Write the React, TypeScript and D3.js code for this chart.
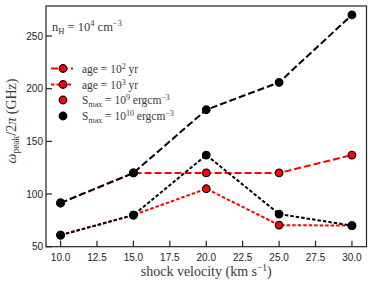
import React from "react";
import * as d3 from "d3";

const velocities = [10, 15, 20, 25, 30];
// age = 1e2 yr
const age2_S9 = [91.5, 120, 120, 120, 137];
const age2_S10 = [91.5, 120, 180, 206, 270];
// age = 1e3 yr
const age3_S9 = [61, 80, 105, 70.5, 70];
const age3_S10 = [61, 80, 137, 81, 70];

const xTicks = [10, 12.5, 15, 17.5, 20, 22.5, 25, 27.5, 30];
const yTicks = [50, 100, 150, 200, 250];

const W = 374, H = 283;
const L = 46, R = 366.5, T = 6, B = 246.7;

export default function App() {
  const x = d3.scaleLinear().domain([9, 31]).range([L, R]);
  const y = d3.scaleLinear().domain([50, 278.5]).range([B, T]);
  const line = d3.line<number>().x((_, i) => x(velocities[i])).y((d) => y(d));

  const series = [
    { data: age2_S9, color: "#ff0000", dash: "7,3", marker: "red" },
    { data: age3_S9, color: "#ff0000", dash: "3.5,2", marker: "red" },
    { data: age2_S10, color: "#000", dash: "7,3", marker: "black" },
    { data: age3_S10, color: "#000", dash: "3.5,2", marker: "black" },
  ];

  const serif = "'Liberation Serif', 'DejaVu Serif', serif";
  const sans = "'Liberation Sans', Arial, sans-serif";
  const textCol = "#3a3a3a";

  const legendRows = [68.5, 84.5, 100, 116];

  return (
    <svg width={W} height={H} style={{ position: "absolute", left: 0, top: 0 }}>
      <rect x={0} y={0} width={W} height={H} fill="#fff" />
      {series.map((s, k) => (
        <g key={k}>
          <path d={line(s.data) || ""} fill="none" stroke={s.color} strokeWidth={2} strokeDasharray={s.dash} />
          {s.data.map((v, i) => (
            <circle key={i} cx={x(velocities[i])} cy={y(v)} r={3.8}
              fill={s.marker === "red" ? "#ff0000" : "#000"} stroke="#000" strokeWidth={1.2} />
          ))}
        </g>
      ))}
      {/* axes frame */}
      <rect x={L} y={T} width={R - L} height={B - T} fill="none" stroke="#222" strokeWidth={1.2} />
      {xTicks.map((t) => (
        <g key={t}>
          <line x1={x(t)} x2={x(t)} y1={B} y2={B - 6} stroke="#222" strokeWidth={1.2} />
          <text x={x(t)} y={B + 14} textAnchor="middle" fontFamily={sans} fontSize={10} fill="#222">
            {t.toFixed(1)}
          </text>
        </g>
      ))}
      {yTicks.map((t) => (
        <g key={t}>
          <line x1={L} x2={L + 6} y1={y(t)} y2={y(t)} stroke="#222" strokeWidth={1.2} />
          <text x={L - 3} y={y(t) + 3.5} textAnchor="end" fontFamily={sans} fontSize={10} fill="#222">
            {t}
          </text>
        </g>
      ))}
      {/* x label */}
      <text x={(L + R) / 2} y={276} textAnchor="middle" fontFamily={serif} fontSize={14} fill={textCol}>
        shock velocity (km s<tspan dy={-5} fontSize={9.5}>−1</tspan><tspan dy={5}>)</tspan>
      </text>
      {/* y label */}
      <text transform={`translate(16,121) rotate(-90)`} textAnchor="middle" fontFamily={serif} fontSize={14} fill={textCol}>
        <tspan fontStyle="italic">ω</tspan><tspan dy={3} fontSize={9.5}>peak</tspan><tspan dy={-3}>/2</tspan><tspan fontStyle="italic">π</tspan> (GHz)
      </text>
      {/* annotation */}
      <text x={52} y={31} fontFamily={serif} fontSize={12.5} fill={textCol}>
        n<tspan dy={3} fontSize={8.5}>H</tspan><tspan dy={-3}> = 10</tspan><tspan dy={-5} fontSize={8.5}>4</tspan><tspan dy={5}> cm</tspan><tspan dy={-5} fontSize={8.5}>−3</tspan>
      </text>
      {/* legend */}
      <line x1={51} x2={73} y1={legendRows[0]} y2={legendRows[0]} stroke="#ff0000" strokeWidth={2} strokeDasharray="7,3" />
      <circle cx={63} cy={legendRows[0]} r={3.8} fill="#ff0000" stroke="#000" strokeWidth={1.2} />
      <line x1={51} x2={73} y1={legendRows[1]} y2={legendRows[1]} stroke="#ff0000" strokeWidth={2} strokeDasharray="3.5,2" />
      <circle cx={63} cy={legendRows[1]} r={3.8} fill="#ff0000" stroke="#000" strokeWidth={1.2} />
      <circle cx={63} cy={legendRows[2]} r={3.8} fill="#ff0000" stroke="#000" strokeWidth={1.2} />
      <circle cx={63} cy={legendRows[3]} r={3.8} fill="#000" stroke="#000" strokeWidth={1.2} />
      <text x={82} y={legendRows[0] + 4} fontFamily={serif} fontSize={11.5} fill={textCol}>
        age = 10<tspan dy={-4} fontSize={8}>2</tspan><tspan dy={4}> yr</tspan>
      </text>
      <text x={82} y={legendRows[1] + 4} fontFamily={serif} fontSize={11.5} fill={textCol}>
        age = 10<tspan dy={-4} fontSize={8}>3</tspan><tspan dy={4}> yr</tspan>
      </text>
      <text x={82} y={legendRows[2] + 4} fontFamily={serif} fontSize={11.5} fill={textCol}>
        S<tspan dy={2.5} fontSize={8}>max</tspan><tspan dy={-2.5}> = 10</tspan><tspan dy={-4} fontSize={8}>9</tspan><tspan dy={4}> ergcm</tspan><tspan dy={-4} fontSize={8}>−3</tspan>
      </text>
      <text x={82} y={legendRows[3] + 4} fontFamily={serif} fontSize={11.5} fill={textCol}>
        S<tspan dy={2.5} fontSize={8}>max</tspan><tspan dy={-2.5}> = 10</tspan><tspan dy={-4} fontSize={8}>10</tspan><tspan dy={4}> ergcm</tspan><tspan dy={-4} fontSize={8}>−3</tspan>
      </text>
    </svg>
  );
}
